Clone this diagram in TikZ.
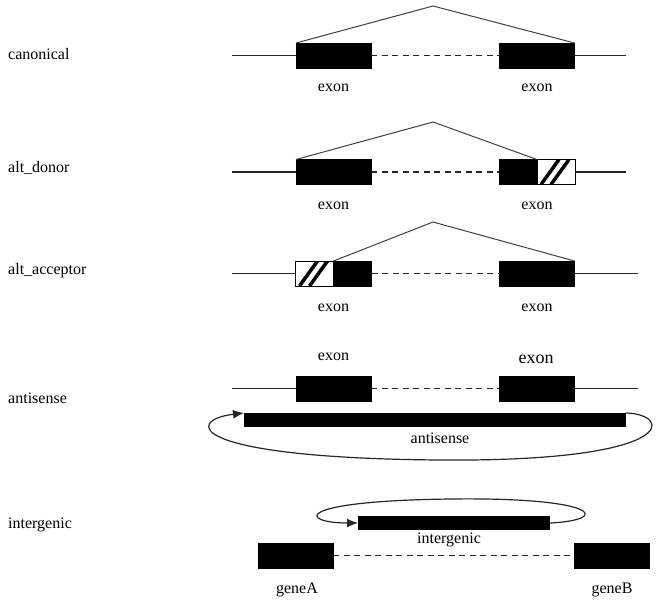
\documentclass[tikz,border=0pt]{standalone}
\usepackage{fontspec}
\setmainfont{Liberation Serif}
\usetikzlibrary{arrows.meta}
\begin{document}
\begin{tikzpicture}[x=1pt,y=-1pt]
\tikzset{
 lbl/.style={font=\fontsize{16}{18}\selectfont, inner sep=0},
 rowlbl/.style={font=\fontsize{16}{18}\selectfont, inner sep=0, anchor=base west},
 exonbox/.style={draw=black, fill=black, minimum width=75pt, minimum height=25pt, inner sep=0, outer sep=0},
 halfbox/.style={draw=black, fill=black, minimum width=38pt, minimum height=25pt, inner sep=0, outer sep=0},
 hatchbox/.style={draw=black, line width=0.8pt, fill=white, minimum width=38pt, minimum height=25pt, inner sep=0, outer sep=0,
   path picture={
     \draw[line width=3.5pt] ([xshift=4pt]path picture bounding box.south west) -- ([xshift=22pt]path picture bounding box.north west);
     \draw[line width=3.5pt] ([xshift=14pt]path picture bounding box.south west) -- ([xshift=32pt]path picture bounding box.north west);
   }},
 bar/.style={fill=black, minimum height=14pt, inner sep=0, outer sep=0},
 strand/.style={line width=1.3pt, draw=black!85},
 intronline/.style={line width=1.7pt, dash pattern=on 6pt off 4.5pt, draw=black!85},
 splice/.style={line width=1pt, draw=black!75},
 loop/.style={line width=1.2pt, draw=black!85, -{Latex[length=11pt,width=9pt]}},
}
\useasboundingbox (0,0) rectangle (668,605);

% canonical
\node[rowlbl] (lcan) at (8,59) {canonical};
\coordinate (c0) at (232,55.5);
\coordinate (c3) at (626,55.5);
\node[exonbox] (c1) at (333.5,55.5) {};
\node[exonbox] (c2) at (537,55.5) {};
\draw[strand] (c0) -- (c1.west);
\draw[intronline] (c1.east) -- (c2.west);
\draw[strand] (c2.east) -- (c3);
\coordinate (ca) at (433,6);
\draw[splice] (c1.north west) -- (ca) -- (c2.north east);
\node[lbl] (ce1) at (333.5,88) {exon};
\node[lbl] (ce2) at (537,88) {exon};

% alt_donor
\node[rowlbl] (ldon) at (8,172) {alt\_donor};
\coordinate (d0) at (232,172);
\coordinate (d3) at (626,172);
\node[exonbox] (d1) at (333.5,172) {};
\node[halfbox] (d2a) at (518,172) {};
\node[hatchbox] (d2b) at (556,172) {};
\draw[strand] (d0) -- (d1.west);
\draw[intronline] (d1.east) -- (d2a.west);
\draw[strand] (d2b.east) -- (d3);
\coordinate (da) at (433,122);
\draw[splice] (d1.north west) -- (da) -- (d2a.north east);
\node[lbl] (de1) at (333.5,206) {exon};
\node[lbl] (de2) at (537,206) {exon};

% alt_acceptor
\node[rowlbl] (lacc) at (8,274) {alt\_acceptor};
\coordinate (a0) at (232,273.5);
\coordinate (a3) at (638,273.5);
\node[hatchbox] (a1a) at (314.5,273.5) {};
\node[halfbox] (a1b) at (352.5,273.5) {};
\node[exonbox] (a2) at (537,273.5) {};
\draw[strand] (a0) -- (a1a.west);
\draw[intronline] (a1b.east) -- (a2.west);
\draw[strand] (a2.east) -- (a3);
\coordinate (aa) at (433,222);
\draw[splice] (a1b.north west) -- (aa) -- (a2.north east);
\node[lbl] (ae1) at (333.5,308) {exon};
\node[lbl] (ae2) at (537,308) {exon};

% antisense
\node[rowlbl] (lant) at (8,403) {antisense};
\node[lbl] (se1) at (333.5,357) {exon};
\node[lbl, font=\fontsize{18}{20}\selectfont] (se2) at (536,359) {exon};
\coordinate (s0) at (232,388.5);
\coordinate (s3) at (638,388.5);
\node[exonbox] (s1) at (333.5,388.5) {};
\node[exonbox] (s2) at (537,388.5) {};
\draw[strand] (s0) -- (s1.west);
\draw[intronline] (s1.east) -- (s2.west);
\draw[strand] (s2.east) -- (s3);
\node[bar, minimum width=382pt] (as) at (435,420) {};
\node[lbl] (asl) at (440,438) {antisense};
\draw[loop] (as.north east) .. controls (672,414) and (682,462) .. (440,460)
  .. controls (185,458) and (185,420) .. (as.north west);

% intergenic
\node[rowlbl] (lint) at (8,528) {intergenic};
\node[bar, minimum width=192pt] (ig) at (454,523) {};
\node[lbl] (igl) at (449,540) {intergenic};
\draw[loop] (ig.east) .. controls (612,520) and (600,497) .. (450,499)
  .. controls (290,501) and (300,523) .. (ig.west);
\node[exonbox] (ga) at (295.5,555.5) {};
\node[exonbox] (gb) at (612,555.5) {};
\draw[intronline] (ga.east) -- (gb.west);
\node[lbl] (gal) at (297,590) {geneA};
\node[lbl] (gbl) at (612,590) {geneB};
\end{tikzpicture}
\end{document}
